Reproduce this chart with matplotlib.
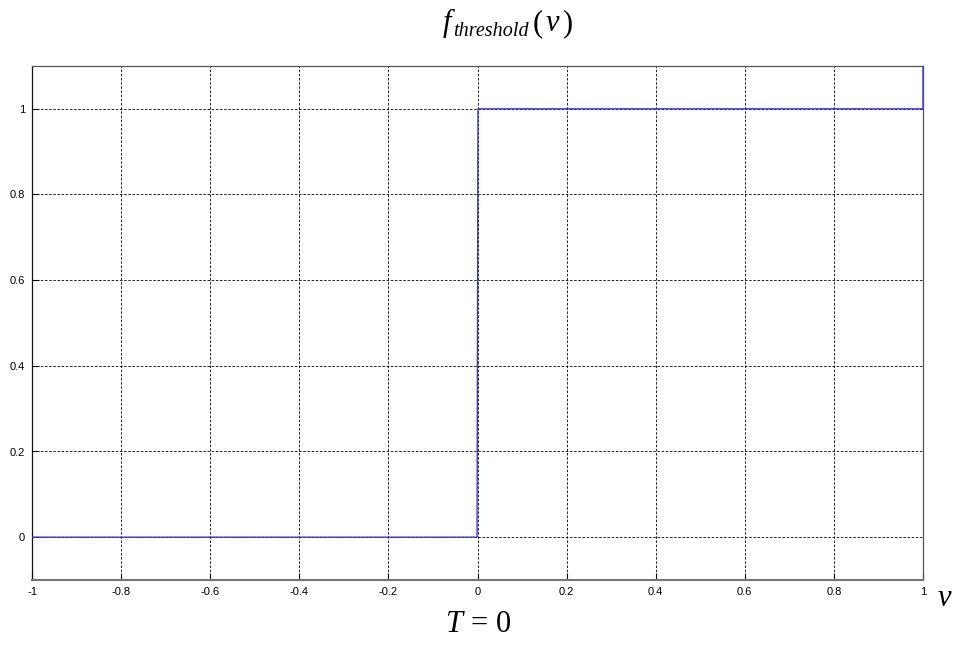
import matplotlib
matplotlib.use("Agg")
import matplotlib.pyplot as plt

# step function samples (hard limiter, T = 0)
v = [-1.0, -0.001, 0.0, 0.001, 1.0, 1.0]
f = [0.0, 0.0, 0.5, 1.0, 1.0, 1.1]

xticks = [-1, -0.8, -0.6, -0.4, -0.2, 0, 0.2, 0.4, 0.6, 0.8, 1]
yticks = [0, 0.2, 0.4, 0.6, 0.8, 1]
xlabels = ['-1', '-0.8', '-0.6', '-0.4', '-0.2', '0', '0.2', '0.4', '0.6', '0.8', '1']
ylabels = ['0', '0.2', '0.4', '0.6', '0.8', '1']

plt.rcParams['mathtext.fontset'] = 'custom'
plt.rcParams['mathtext.it'] = 'Liberation Serif:italic'
plt.rcParams['mathtext.rm'] = 'Liberation Serif'

W, H = 958, 654
fig = plt.figure(figsize=(W / 100, H / 100), dpi=100)
ax = fig.add_axes([32/W, 1 - 580/H, (923 - 32)/W, (580 - 66)/H])

ax.plot(v, f, color='#3333ff', lw=1.0, zorder=3)

ax.set_xlim(-1, 1)
ax.set_ylim(-0.1, 1.1)
ax.set_xticks(xticks)
ax.set_yticks(yticks)
ax.set_xticklabels(xlabels, family='Liberation Sans')
ax.set_yticklabels(ylabels, family='Liberation Sans')
ax.tick_params(direction='in', length=5, width=0.8, labelsize=8, pad=5,
               top=False, right=False)
ax.grid(True, color='black', linestyle=(0, (3, 2)), lw=0.6)
for s in ax.spines.values():
    s.set_color('#555555')
    s.set_linewidth(0.9)
ax.spines['left'].set_color('#111111')
ax.spines['bottom'].set_color('#777777')
ax.spines['bottom'].set_linewidth(1.5)

def px(x, y):
    return x / W, 1 - y / H

serif = 'Liberation Serif'

# title built from pieces, each one placed after the previous
pieces = [('f', 'italic', 22, 0, 2),
          ('threshold', 'italic', 14.5, 5, 3),
          ('(', 'normal', 22, 0, 3),
          ('v', 'italic', 22, 0, 3),
          (')', 'normal', 22, 0, 0)]
renderer = fig.canvas.get_renderer()
x = 443
for txt, st, size, drop, gap in pieces:
    t = fig.text(*px(x, 31 + drop), txt, family=serif, style=st,
                 fontsize=size, va='baseline')
    bb = t.get_window_extent(renderer)
    x += bb.width + gap

fig.text(*px(938, 606), 'v', family=serif, style='italic', fontsize=22, va='baseline')
fig.text(*px(478, 632), r'$T\,=\,0$', ha='center', va='baseline', fontsize=22)

fig.savefig('out.png', dpi=100)
